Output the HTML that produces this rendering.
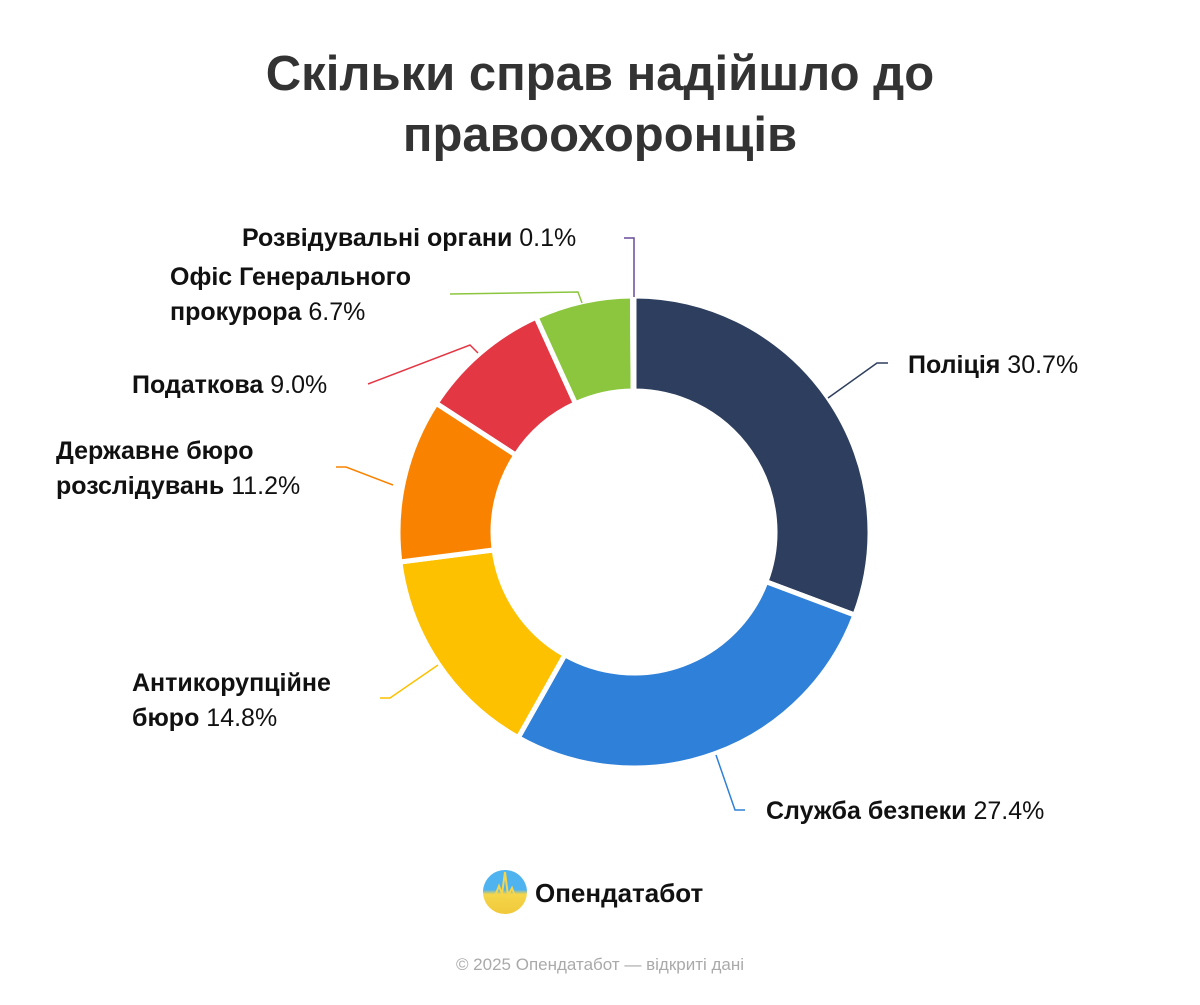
<!DOCTYPE html>
<html><head><meta charset="utf-8"><style>
body{margin:0;background:#fff;width:1200px;height:1000px;overflow:hidden;font-family:"Liberation Sans","DejaVu Sans",sans-serif}
</style></head><body>
<svg id="s" width="1200" height="1000" xmlns="http://www.w3.org/2000/svg" font-family="Liberation Sans, DejaVu Sans, sans-serif">
<defs>
<linearGradient id="lg" x1="0" y1="0" x2="0" y2="1"><stop offset="0.45" stop-color="#4fb3f0"/><stop offset="0.55" stop-color="#f5d54a"/><stop offset="1" stop-color="#f0c93a"/></linearGradient>
</defs>
<text x="600" y="90" text-anchor="middle" font-size="49" font-weight="bold" fill="#333">Скільки справ надійшло до</text>
<text x="600" y="151" text-anchor="middle" font-size="49" font-weight="bold" fill="#333">правоохоронців</text>
<g id="pie"></g>
<g fill="none" stroke-width="1.5">
<polyline points="828,398 877,363 888,363" stroke="#2e3e5e"/>
<polyline points="716,755 735,810 745,810" stroke="#2f80d8"/>
<polyline points="438,665 390,698 380,698" stroke="#fdc100"/>
<polyline points="393,485 346,467 336,467" stroke="#f98300"/>
<polyline points="478,353 470,345 368,384" stroke="#e33744"/>
<polyline points="582,303 578,292 450,294" stroke="#8cc63f"/>
<polyline points="634,297 634,238 624,238" stroke="#6a4a9a"/>
</g>
<g font-size="25" fill="#111">
<text x="908" y="373"><tspan font-weight="bold">Поліція</tspan> 30.7%</text>
<text x="766" y="819"><tspan font-weight="bold">Служба безпеки</tspan> 27.4%</text>
<text x="132" y="691"><tspan font-weight="bold">Антикорупційне</tspan></text>
<text x="132" y="726"><tspan font-weight="bold">бюро</tspan> 14.8%</text>
<text x="56" y="459"><tspan font-weight="bold">Державне бюро</tspan></text>
<text x="56" y="494"><tspan font-weight="bold">розслідувань</tspan> 11.2%</text>
<text x="132" y="393"><tspan font-weight="bold">Податкова</tspan> 9.0%</text>
<text x="170" y="285"><tspan font-weight="bold">Офіс Генерального</tspan></text>
<text x="170" y="320"><tspan font-weight="bold">прокурора</tspan> 6.7%</text>
<text x="242" y="246"><tspan font-weight="bold">Розвідувальні органи</tspan> 0.1%</text>
</g>
<circle cx="505" cy="892" r="22" fill="url(#lg)"/>
<polyline points="485,896 495,896 499,886 502,894 505,872 508,896 512,888 515,896 525,896" fill="none" stroke="#f5d54a" stroke-width="2"/>
<text x="535" y="902" font-size="26" font-weight="bold" fill="#111">Опендатабот</text>
<text x="600" y="970" text-anchor="middle" font-size="17" fill="#aaa">© 2025 Опендатабот — відкриті дані</text>
</svg>
<script>
var d=[[30.7,"#2e3e5e"],[27.4,"#2f80d8"],[14.8,"#fdc100"],[11.2,"#f98300"],[9.0,"#e33744"],[6.7,"#8cc63f"],[0.1,"#6a4a9a"]];
var cx=634,cy=532,R=236,r=141,a=-Math.PI/2,tot=99.9,g=document.getElementById("pie"),h="";
function p(rad,an){return (cx+rad*Math.cos(an)).toFixed(2)+","+(cy+rad*Math.sin(an)).toFixed(2);}
d.forEach(function(x){var b=a+x[0]/tot*2*Math.PI,l=(b-a)>Math.PI?1:0;
h+='<path d="M'+p(R,a)+' A'+R+','+R+' 0 '+l+' 1 '+p(R,b)+' L'+p(r,b)+' A'+r+','+r+' 0 '+l+' 0 '+p(r,a)+' Z" fill="'+x[1]+'" stroke="#fff" stroke-width="5" stroke-linejoin="round"/>';a=b;});
g.innerHTML=h;
</script>
</body></html>
